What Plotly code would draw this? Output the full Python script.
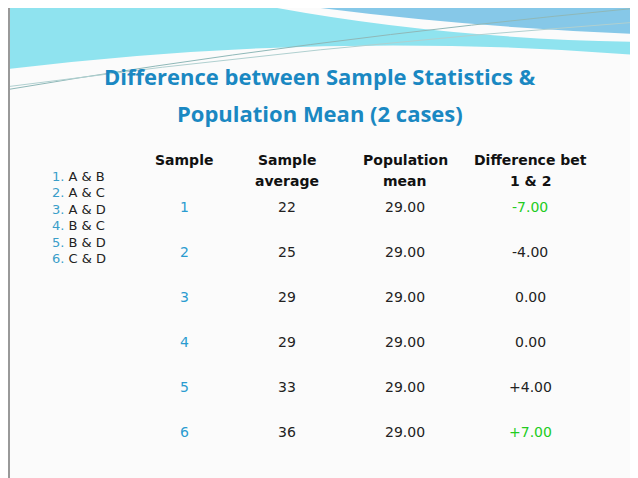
import plotly.graph_objects as go

title_lines = ["Difference between Sample Statistics &", "Population Mean (2 cases)"]
pairs = ["A & B", "A & C", "A & D", "B & C", "B & D", "C & D"]
headers = [["Sample"], ["Sample", "average"], ["Population", "mean"], ["Difference bet", "1 & 2"]]
samples = ["1", "2", "3", "4", "5", "6"]
averages = ["22", "25", "29", "29", "33", "36"]
pop_mean = ["29.00"] * 6
diffs = ["-7.00", "-4.00", "0.00", "0.00", "+4.00", "+7.00"]
diff_colors = ["#22cc22", "#222222", "#222222", "#222222", "#222222", "#22cc22"]

W, H = 638, 478
OFF = 8
fig = go.Figure()
fig.add_trace(go.Scatter(x=[OFF, W], y=[OFF, H], mode="markers", marker=dict(opacity=0), hoverinfo="skip", showlegend=False))

shapes = [
    dict(type="path", path="M0,0 L236,0 Q420,38 638,42 L638,55 Q320,30 0,70 Z", fillcolor="#8fe3ef", line=dict(width=0), layer="below"),
    dict(type="path", path="M262,0 L638,0 L638,34 Q440,26 262,0 Z", fillcolor="#86c8e8", line=dict(width=0), layer="below"),
    dict(type="path", path="M5,90 Q300,40 638,8", line=dict(color="#8fb8b8", width=1)),
    dict(type="path", path="M5,87 Q320,45 638,22", line=dict(color="#b0d0d0", width=1)),
    dict(type="line", x0=9, x1=9, y0=0, y1=H, line=dict(color="#999999", width=2)),
]

ann = []
title_color = "#1a88c2"
for i, t in enumerate(title_lines):
    ann.append(dict(x=320, y=76 + i * 37, text=f"<b>{t}</b>", font=dict(family="Open Sans", size=22, color=title_color)))
for i, p in enumerate(pairs):
    y = 176 + i * 16.5
    ann.append(dict(x=50, y=y, xanchor="left", text=f"<span style='color:#3a9ec9'>{i+1}.</span> {p}",
                    font=dict(family="DejaVu Sans", size=13, color="#222222")))
cols = [184, 287, 405, 530]
for c, h in zip(cols, headers):
    for j, t in enumerate(h):
        ann.append(dict(x=c, y=160 + j * 21, text=f"<b>{t}</b>", font=dict(family="DejaVu Sans", size=14, color="#111111")))
for i in range(6):
    y = 207 + i * 45
    ann.append(dict(x=cols[0], y=y, text=samples[i], font=dict(family="DejaVu Sans", size=14, color="#2a9bd0")))
    ann.append(dict(x=cols[1], y=y, text=averages[i], font=dict(family="DejaVu Sans", size=14, color="#222222")))
    ann.append(dict(x=cols[2], y=y, text=pop_mean[i], font=dict(family="DejaVu Sans", size=14, color="#222222")))
    ann.append(dict(x=cols[3], y=y, text=diffs[i], font=dict(family="DejaVu Sans", size=14, color=diff_colors[i])))
for a in ann:
    a.update(xref="x", yref="y", showarrow=False)
    a.setdefault("xanchor", "center")
    a["yanchor"] = "middle"

fig.update_layout(
    width=W - OFF, height=H - OFF, margin=dict(l=0, r=0, t=0, b=0),
    paper_bgcolor="#fbfbfb", plot_bgcolor="#fbfbfb",
    xaxis=dict(range=[OFF, W], visible=False, fixedrange=True),
    yaxis=dict(range=[H, OFF], visible=False, fixedrange=True),
    shapes=shapes, annotations=ann, showlegend=False,
)
fig.write_html("out.html")
